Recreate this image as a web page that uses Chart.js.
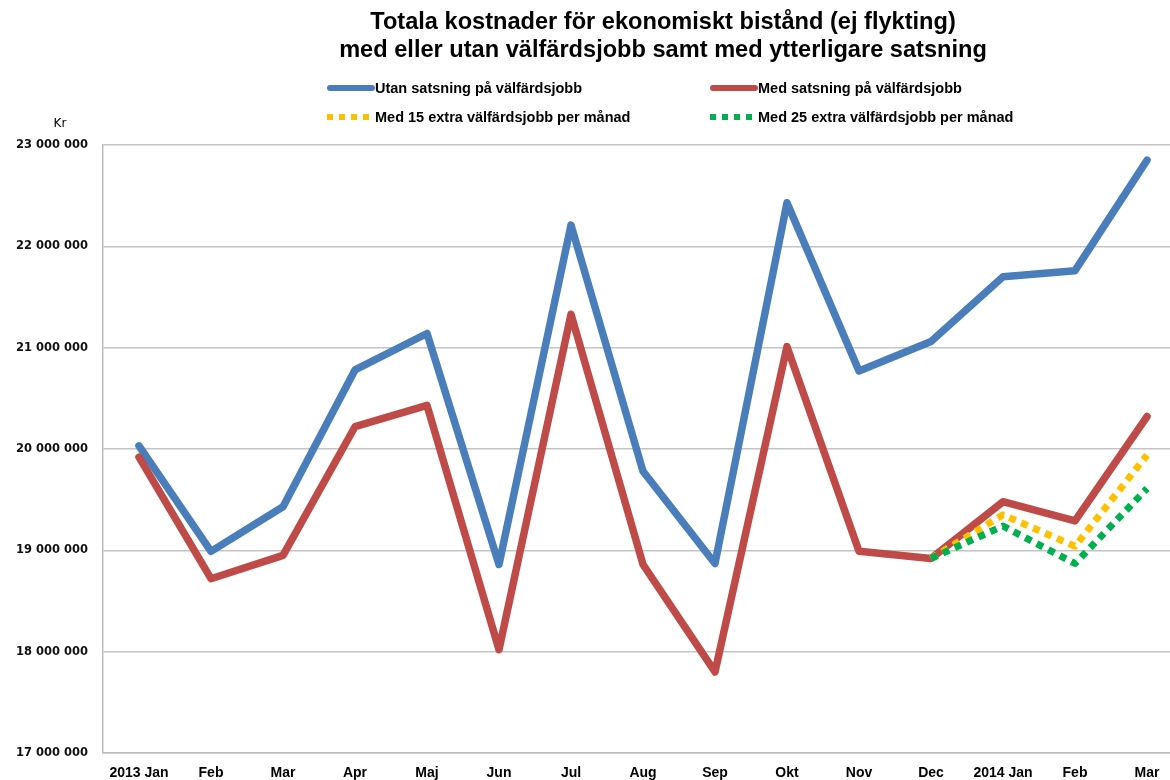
<!DOCTYPE html>
<html>
<head>
<meta charset="utf-8">
<script src="https://cdn.jsdelivr.net/npm/chart.js@4"></script>
<style>
  html, body { margin: 0; padding: 0; background: #ffffff; overflow: hidden; width: 1170px; height: 780px; }
  #c { position: absolute; left: 0; top: 0; }
</style>
</head>
<body>
<canvas id="c" width="1183" height="780"></canvas>
<script>
const categories = ['2013 Jan','Feb','Mar','Apr','Maj','Jun','Jul','Aug','Sep','Okt','Nov','Dec','2014 Jan','Feb','Mar'];
const utanSatsning = [20030000, 18990000, 19430000, 20780000, 21140000, 18860000, 22210000, 19780000, 18870000, 22430000, 20770000, 21060000, 21700000, 21760000, 22850000];
const medSatsning  = [19920000, 18720000, 18950000, 20220000, 20430000, 18020000, 21330000, 18860000, 17800000, 21010000, 18990000, 18920000, 19480000, 19290000, 20320000];
const med15Extra   = [null, null, null, null, null, null, null, null, null, null, null, 18920000, 19350000, 19040000, 19940000];
const med25Extra   = [null, null, null, null, null, null, null, null, null, null, null, 18920000, 19240000, 18870000, 19610000];
const seriesNames = ['Utan satsning på välfärdsjobb', 'Med satsning på välfärdsjobb', 'Med 15 extra välfärdsjobb per månad', 'Med 25 extra välfärdsjobb per månad'];
const titleLines = ['Totala kostnader för ekonomiskt bistånd (ej flykting)', 'med eller utan välfärdsjobb samt med ytterligare satsning'];
const yMin = 17000000, yMax = 23000000, yStep = 1000000;
const yUnit = 'Kr';

const colors = ['#4a7ebb', '#be4b48', '#ffc000', '#00b050'];

function fmt(v) {
  return String(Math.round(v)).replace(/\B(?=(\d{3})+(?!\d))/g, ' ');
}

const overlay = {
  id: 'overlay',
  afterDraw(chart) {
    const ctx = chart.ctx;
    ctx.save();
    // Title
    ctx.fillStyle = '#000';
    ctx.textAlign = 'center';
    ctx.textBaseline = 'middle';
    ctx.font = 'bold 23.6px "Liberation Sans", Arial, sans-serif';
    ctx.fillText(titleLines[0], 663, 22);
    ctx.fillText(titleLines[1], 663, 50);
    // Legend
    const pos = [[327, 88], [710, 88], [327, 117], [710, 117]];
    chart.data.datasets.forEach((ds, i) => {
      const [x, y] = pos[i];
      ctx.strokeStyle = ds.borderColor;
      ctx.lineWidth = 6;
      ctx.lineCap = ds.borderDash && ds.borderDash.length ? 'butt' : 'round';
      ctx.setLineDash(ds.borderDash && ds.borderDash.length ? [6, 6] : []);
      ctx.beginPath();
      ctx.moveTo(x + (ctx.lineCap === 'round' ? 3 : 0), y);
      ctx.lineTo(x + 45, y);
      ctx.stroke();
      ctx.setLineDash([]);
      ctx.fillStyle = '#000';
      ctx.textAlign = 'left';
      ctx.font = 'bold 14.5px "Liberation Sans", Arial, sans-serif';
      ctx.fillText(ds.label, x + 48, y + 1);
    });
    // Unit
    ctx.font = '12px "DejaVu Sans", Verdana, sans-serif';
    ctx.textAlign = 'center';
    ctx.fillText(yUnit, 60, 124);
    ctx.restore();
  }
};

new Chart(document.getElementById('c'), {
  type: 'line',
  data: {
    labels: categories,
    datasets: [
      { label: seriesNames[0], data: utanSatsning, borderColor: colors[0], backgroundColor: colors[0], borderWidth: 7.5, order: 3 },
      { label: seriesNames[1], data: medSatsning, borderColor: colors[1], backgroundColor: colors[1], borderWidth: 7.5, order: 2 },
      { label: seriesNames[2], data: med15Extra, borderColor: colors[2], backgroundColor: colors[2], borderWidth: 7, borderDash: [7, 6], borderCapStyle: 'butt', order: 1 },
      { label: seriesNames[3], data: med25Extra, borderColor: colors[3], backgroundColor: colors[3], borderWidth: 7, borderDash: [7, 6], borderCapStyle: 'butt', order: 0 }
    ]
  },
  options: {
    responsive: false,
    animation: false,
    devicePixelRatio: 1,
    layout: { padding: { top: 145, left: 0, right: 0, bottom: 0 } },
    elements: {
      point: { radius: 0, hoverRadius: 0 },
      line: { tension: 0, borderJoinStyle: 'round', borderCapStyle: 'round', fill: false }
    },
    plugins: {
      legend: { display: false },
      title: { display: false },
      tooltip: { enabled: false }
    },
    scales: {
      x: {
        offset: true,
        grid: { display: false, drawTicks: false },
        border: { display: true, color: '#bdbdbd', width: 1.5 },
        ticks: {
          color: '#000',
          font: { family: '"Liberation Sans", Arial, sans-serif', size: 14, weight: 'bold' },
          padding: 12,
          maxRotation: 0,
          autoSkip: false
        },
        afterFit(scale) { scale.height = 27; }
      },
      y: {
        min: yMin,
        max: yMax,
        grid: { color: '#c4c4c4', lineWidth: 1.5, drawTicks: false },
        border: { display: true, color: '#bdbdbd', width: 1.5 },
        ticks: {
          stepSize: yStep,
          color: '#111',
          padding: 15,
          font: { family: '"DejaVu Sans", Verdana, sans-serif', size: 11.5, weight: 'bold' },
          callback: (v) => fmt(v)
        },
        afterFit(scale) { scale.width = 103; }
      }
    }
  },
  plugins: [overlay]
});
</script>
</body>
</html>
